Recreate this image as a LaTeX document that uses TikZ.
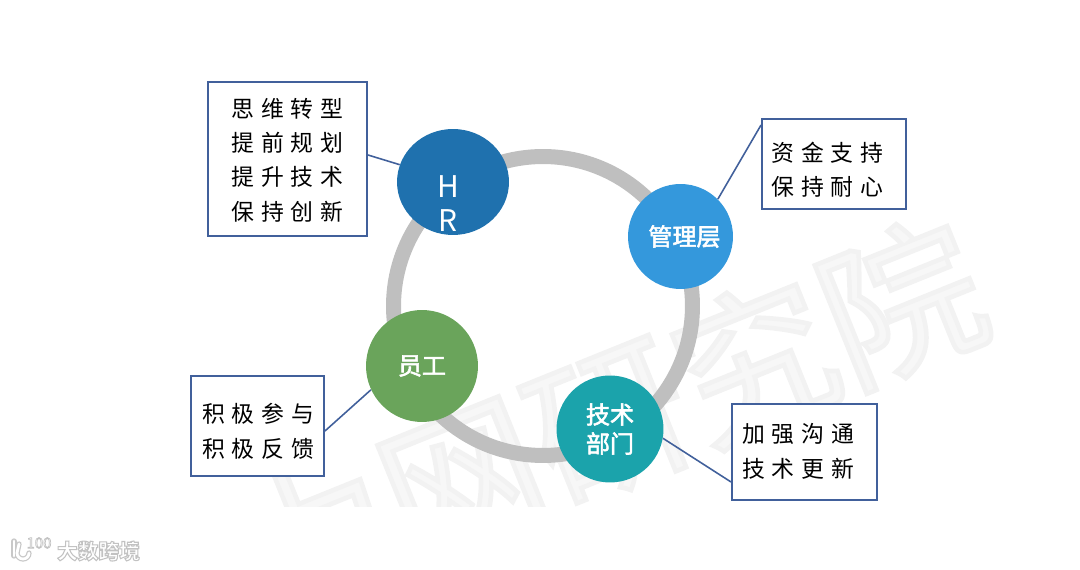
\documentclass[tikz,border=0pt]{standalone}
\usepackage{fontspec}
\setmainfont{Noto Sans CJK SC}
\usetikzlibrary{positioning, shapes.geometric}
\definecolor{ringg}{HTML}{BFBFBF}
\definecolor{hrblue}{HTML}{1F71AE}
\definecolor{mgblue}{HTML}{3498DC}
\definecolor{tealc}{HTML}{1BA3AB}
\definecolor{staffg}{HTML}{6AA45B}
\definecolor{lineb}{HTML}{41609B}
\definecolor{wmark}{HTML}{F7F7F7}
\definecolor{logog}{HTML}{C8C8C8}
\tikzset{
  role/.style={circle, inner sep=0pt, text=white, font=\fontsize{13.7pt}{16.5pt}\selectfont, align=center},
  note/.style={draw=lineb, line width=1.1pt, fill=white, inner sep=0pt},
  notetxt/.style={inner sep=0pt, align=center, font=\fontsize{13pt}{19.6pt}\selectfont},
  lead/.style={draw=lineb, line width=0.9pt}
}
\newcommand{\sptxt}[4]{#1\hspace{0.3em}#2\hspace{0.3em}#3\hspace{0.3em}#4}
\newcommand{\outl}[3]{\special{pdf:code q 2 Tr #1 w #2 G}#3\special{pdf:code 0 Tr Q}}
\newcommand{\wb}[1]{\outl{0.3}{1}{#1}}
\begin{document}
\begin{tikzpicture}[x=0.02cm, y=-0.02cm]
  \useasboundingbox (0,0) rectangle (1080,570);
  % watermark
  \begin{scope}
    \clip (0,0) rectangle (1080,507);
    \node[rotate=22, text=wmark, font=\fontsize{90pt}{90pt}\selectfont, inner sep=0pt] (wm) at (608,420) {\outl{2.6}{0.95}{力网研究院}};
  \end{scope}
  % ring
  \node[circle, draw=ringg, line width=0.3cm, minimum size=5.98cm, inner sep=0pt] (ring) at (543,306) {};
  % roles
  \node[role, ellipse, fill=hrblue, minimum width=2.24cm, minimum height=2.12cm] (hr) at (453,182) {};
  \node[inner sep=0pt, text=white, align=center, font=\fontsize{17pt}{19.4pt}\selectfont] (hrtxt) at (448,204) {H\\R};
  \node[role, fill=mgblue, minimum size=2.1cm] (mgmt) at (680.5,236.5) {\hspace{4.5pt}\wb{管理层}};
  \node[role, fill=tealc, minimum size=2.14cm] (tech) at (610,429) {\wb{技术}\\\wb{部门}};
  \node[role, fill=staffg, minimum size=2.24cm] (staff) at (422,366) {\wb{员工}};
  % notes
  \node[note, minimum width=3.18cm, minimum height=3.08cm] (hrnote) at (287.5,159) {};
  \node[notetxt] (hrtxtb) at (287.5,160) {\sptxt{思}{维}{转}{型}\\\sptxt{提}{前}{规}{划}\\\sptxt{提}{升}{技}{术}\\\sptxt{保}{持}{创}{新}};
  \node[note, minimum width=2.88cm, minimum height=1.8cm] (mgnote) at (834,164) {};
  \node[notetxt] (mgtxt) at (827.5,169.5) {\sptxt{资}{金}{支}{持}\\\sptxt{保}{持}{耐}{心}};
  \node[note, minimum width=2.9cm, minimum height=1.92cm] (technote) at (804.5,452) {};
  \node[notetxt] (techtxt) at (798,451.5) {\sptxt{加}{强}{沟}{通}\\\sptxt{技}{术}{更}{新}};
  \node[note, minimum width=2.66cm, minimum height=2cm] (staffnote) at (257.5,426) {};
  \node[notetxt] (stafftxt) at (258,431.5) {\sptxt{积}{极}{参}{与}\\\sptxt{积}{极}{反}{馈}};
  % leaders
  \draw[lead] (hrnote.east |- 0,155) -- (hr.162);
  \draw[lead] (mgnote.west |- 0,125) -- (mgmt.45);
  \draw[lead] (tech.-10) -- (technote.west |- 0,482);
  \draw[lead] (staffnote.east |- 0,431) -- (staff.205);
  % logo
  \node[text=white, font=\bfseries\fontsize{11.8pt}{13pt}\selectfont, inner sep=0pt] (logotxt) at (98.5,551) {\outl{0.6}{0.76}{大数跨境}};
  \node[text=white, font=\fontsize{8.5pt}{9pt}\selectfont, inner sep=0pt] (logonum) at (39,543) {\outl{0.4}{0.76}{100}};
  \foreach \lw/\lc in {3pt/logog, 1.6pt/white}{
    \draw[\lc, line width=\lw, line cap=round] (14,541) -- (14,556);
    \draw[\lc, line width=\lw, line cap=round] (29,553) arc (0:180:6) -- (19,544);
  }
\end{tikzpicture}
\end{document}
